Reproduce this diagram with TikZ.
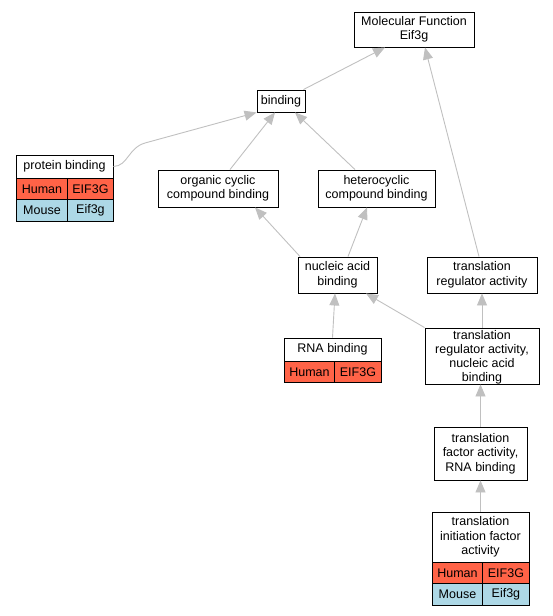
\documentclass[tikz,border=0pt]{standalone}
\usepackage{fontspec}
\setmainfont{Liberation Sans}
\usetikzlibrary{arrows.meta}
\definecolor{hum}{HTML}{FF6347}
\definecolor{mou}{HTML}{ADD8E6}
\definecolor{edgec}{HTML}{C0C0C0}
\begin{document}
\begin{tikzpicture}[x=1pt,y=-1pt,
  font=\fontsize{12.5}{14.5}\selectfont,
  box/.style={draw, line width=0.9pt, align=center, inner sep=0pt, fill=white},
  cell/.style={draw, line width=0.9pt, inner sep=0pt, anchor=north west},
  humcell/.style={cell, fill=hum},
  moucell/.style={cell, fill=mou},
  edge/.style={draw=edgec, line width=0.9pt, -{Triangle[length=12pt,width=10pt]}}]
\useasboundingbox (0,0) rectangle (552,616);
% nodes
\node[box, minimum width=120pt, minimum height=35pt] (mf) at (414,29.5) {Molecular Function\\Eif3g};
\node[box, minimum width=48pt, minimum height=22pt] (bind) at (281,101) {binding};
\node[box, minimum width=97pt, minimum height=23pt] (pb) at (64.5,166.5) {protein binding};
\node[humcell, minimum width=51pt, minimum height=21pt] (pbh1) at (16,178) {Human};
\node[humcell, minimum width=46pt, minimum height=21pt] (pbh2) at (67,178) {EIF3G};
\node[moucell, minimum width=51pt, minimum height=22pt] (pbm1) at (16,199) {Mouse};
\node[moucell, minimum width=46pt, minimum height=22pt] (pbm2) at (67,199) {Eif3g};
\node[box, minimum width=120pt, minimum height=37pt] (org) at (218,188.5) {organic cyclic\\compound binding};
\node[box, minimum width=117pt, minimum height=37pt] (het) at (376.5,188.5) {heterocyclic\\compound binding};
\node[box, minimum width=79pt, minimum height=36pt] (nab) at (337.5,275) {nucleic acid\\binding};
\node[box, minimum width=110pt, minimum height=36pt] (tra) at (482,275) {translation\\regulator activity};
\node[box, minimum width=97pt, minimum height=23pt] (rna) at (332.5,349.5) {RNA binding};
\node[humcell, minimum width=50pt, minimum height=21pt] (rnah1) at (284,361) {Human};
\node[humcell, minimum width=47pt, minimum height=21pt] (rnah2) at (334,361) {EIF3G};
\node[box, minimum width=114pt, minimum height=56pt] (tranab) at (482,356) {};
\node[align=center, inner sep=0pt, font=\fontsize{12.5}{14}\selectfont] (tranabtext) at (482,357) {translation\\regulator activity,\\nucleic acid\\binding};
\node[box, minimum width=93pt, minimum height=53pt] (tfa) at (480.5,453.5) {translation\\factor activity,\\RNA binding};
\node[box, minimum width=97pt, minimum height=50pt] (tifa) at (480.5,537) {translation\\initiation factor\\activity};
\node[humcell, minimum width=50pt, minimum height=21pt] (tifah1) at (432,562) {Human};
\node[humcell, minimum width=47pt, minimum height=21pt] (tifah2) at (482,562) {EIF3G};
\node[moucell, minimum width=50pt, minimum height=22pt] (tifam1) at (432,583) {Mouse};
\node[moucell, minimum width=47pt, minimum height=22pt] (tifam2) at (482,583) {Eif3g};
% edges
\draw[edge] ([xshift=-2pt]bind.north east) -- ([xshift=-29pt]mf.south);
\draw[edge] ([xshift=-3pt]tra.north) -- ([xshift=11pt]mf.south);
\draw[edge] (pb.east) .. controls (128,166) and (128,148) .. (145,143) -- (bind.south west);
\draw[edge] ([xshift=12pt]org.north) -- ([xshift=-6pt]bind.south);
\draw[edge] ([xshift=-21.5pt]het.north) -- ([xshift=14pt]bind.south);
\draw[edge] ([xshift=2.5pt]nab.north west) -- ([xshift=37pt]org.south);
\draw[edge] ([xshift=10.5pt]nab.north) -- ([xshift=-9.5pt]het.south);
\draw[edge] (rna.north) -- ([xshift=-2.5pt]nab.south);
\draw[edge] (tranab.north west) -- ([xshift=28.5pt]nab.south);
\draw[edge] (tranab.north) -- (tra.south);
\draw[edge] (tfa.north) -- (tfa.north |- tranab.south);
\draw[edge] (tifa.north) -- (tfa.south);
\end{tikzpicture}
\end{document}
